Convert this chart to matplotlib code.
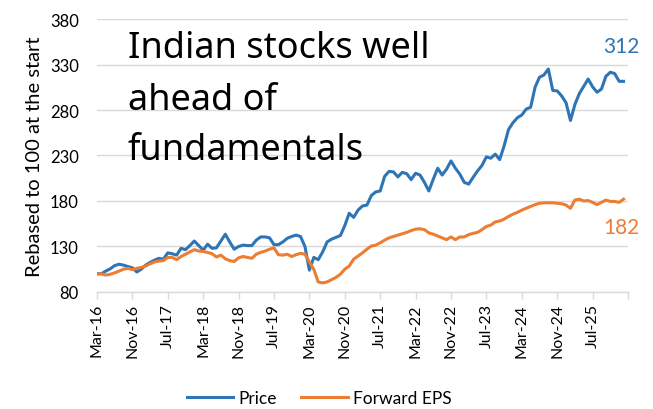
import numpy as np
import matplotlib
matplotlib.use('Agg')
import matplotlib.pyplot as plt

# monthly series, Mar-16 onwards, rebased to 100
price = [100, 100, 103, 105.5, 109, 110.5, 109.5, 108, 106.5, 102,
         105, 109.5, 112.5, 115, 117, 116, 123, 122, 120.5, 128,
         126.5, 131, 136, 131, 126, 132.5, 128, 128.5, 136, 143.5,
         135, 127, 130, 131.5, 131, 131, 137, 140.5, 140.5, 139.5,
         132, 132, 135, 139, 141, 142.5, 141, 130, 104, 118,
         115.5, 124, 135, 138, 140, 142, 153, 166.5, 162, 170,
         174.5, 175.5, 186, 190, 191, 207, 212.5, 212, 206.5, 211.5,
         210, 203.5, 210.5, 208.5, 200.5, 191, 204, 216, 208.5, 215,
         224, 216, 209.5, 200.5, 198.5, 206, 213, 219, 228.5, 227,
         231.5, 225.5, 240.5, 258.5, 266, 271.5, 274.5, 281, 283, 305,
         316, 318.5, 325, 301.5, 301, 295.5, 288, 268.5, 286, 298,
         306, 314, 305.5, 299.5, 303, 317, 321.5, 320, 311.5, 311.5]

fwd_eps = [100, 100, 98.5, 99.5, 101, 103, 105, 106, 104.5, 106,
           107, 108.5, 111, 113, 114, 114.5, 118, 118, 115.5, 119,
           121.5, 124, 126.5, 125, 124.5, 123.5, 122, 118.5, 120.5, 116.5,
           114.5, 113.5, 117.5, 119, 118, 117, 121.5, 123.5, 125, 127,
           128.5, 121, 120.5, 121.5, 119, 121, 122.5, 121.5, 113, 105,
           91, 90, 91, 93.5, 96, 99.5, 105, 108.5, 116, 119.5,
           123, 127, 130.5, 131.5, 134, 137, 139.5, 141, 142.5, 144,
           145.5, 147.5, 149, 149.5, 148.5, 145, 143.5, 141.5, 139.5, 137.5,
           140.5, 137.5, 140.5, 140.5, 143, 144.5, 145.5, 148.5, 152, 153.5,
           157, 158, 160, 163, 165.5, 167.5, 170, 172, 174, 176,
           177.5, 178, 178, 178, 177.5, 177, 175.5, 172, 181, 182,
           180, 180.5, 178.5, 176, 178.5, 181, 179.5, 179.5, 178.5, 182]

tick_labels = ['Mar-16', 'Nov-16', 'Jul-17', 'Mar-18', 'Nov-18', 'Jul-19',
               'Mar-20', 'Nov-20', 'Jul-21', 'Mar-22', 'Nov-22', 'Jul-23',
               'Mar-24', 'Nov-24', 'Jul-25', '']
y_ticks = [80, 130, 180, 230, 280, 330, 380]

BLUE = '#2E75B6'
ORANGE = '#ED7D31'
GRID = '#d9d9d9'

plt.rcParams['font.family'] = ['Lato', 'DejaVu Sans']

fig = plt.figure(figsize=(6.53, 4.10), dpi=100)
ax = fig.add_axes([0.1485, 0.2854, 0.8132, 0.6658])

x = np.arange(len(price))
ax.plot(x, price, color=BLUE, lw=2.2, label='Price', solid_joinstyle='round')
ax.plot(x, fwd_eps, color=ORANGE, lw=2.2, label='Forward EPS', solid_joinstyle='round')

ax.set_xlim(0, 8 * (len(tick_labels) - 1))
ax.set_ylim(y_ticks[0], y_ticks[-1])
ax.set_yticks(y_ticks)
ax.set_xticks(np.arange(len(tick_labels)) * 8)
ax.set_xticklabels(tick_labels, rotation=90, fontsize=11.5)
ax.tick_params(axis='y', length=0, pad=13, labelsize=12)
ax.tick_params(axis='x', length=5, color=GRID, width=1, pad=3)
ax.grid(axis='y', color=GRID, lw=1)
ax.set_axisbelow(True)
for s in ('top', 'right', 'left'):
    ax.spines[s].set_visible(False)
ax.spines['bottom'].set_color(GRID)
ax.spines['bottom'].set_linewidth(1)
ax.set_ylabel('Rebased to 100 at the start', fontsize=14.5, labelpad=5)

# end labels
ax.text(118.4, 350, f'{price[-1]:.0f}', color=BLUE, fontsize=15, ha='center', va='center')
ax.text(118.4, 151, f'{fwd_eps[-1]:.0f}', color=ORANGE, fontsize=15, ha='center', va='center')

# hand-written style title inside the plot
for txt, yy in [('Indian stocks well', 0.861), ('ahead of', 0.670), ('fundamentals', 0.487)]:
    ax.text(0.058, yy, txt, transform=ax.transAxes, fontsize=26,
            family='Noto Sans', va='baseline', ha='left', color='black')

fig.legend(loc='center', bbox_to_anchor=(0.489, 0.026), ncol=2, frameon=False,
           fontsize=12.5, handlelength=2.7, handletextpad=0.3, columnspacing=1.4)

fig.savefig('out.png', dpi=100)
plt.close(fig)
